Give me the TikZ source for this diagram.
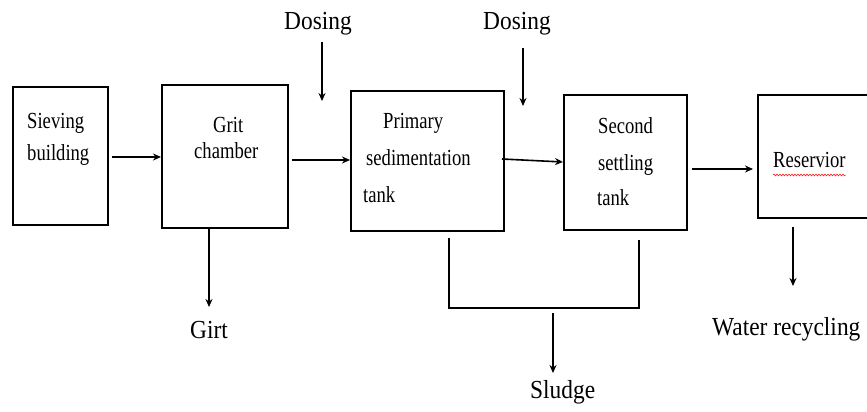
\documentclass[tikz,border=0pt]{standalone}
\usepackage{fontspec}
\setmainfont{Liberation Serif}
\usetikzlibrary{arrows.meta,calc,decorations.pathmorphing}
\newcommand\boxtxt[1]{\scalebox{0.81}[1]{#1}}
\newcommand\labtxt[1]{\scalebox{0.9}[1]{#1}}
\begin{document}
\begin{tikzpicture}[x=1pt,y=-1pt,
  box/.style={draw, line width=1.5pt, inner sep=0pt, anchor=north west},
  txt/.style={inner sep=0pt, anchor=base west, font=\rmfamily\fontsize{23}{23}\selectfont},
  lab/.style={inner sep=0pt, anchor=base west, font=\rmfamily\fontsize{26}{26}\selectfont},
  arr/.style={line width=1.6pt, -{Stealth[length=8pt,width=7pt]}},
  ln/.style={line width=1.5pt}]
\useasboundingbox (0,0) rectangle (867,412);
% boxes
\node[box, minimum width=95pt, minimum height=138pt] (sieve) at (12,86) {};
\node[box, minimum width=126pt, minimum height=143pt] (grit) at (161,84) {};
\node[box, minimum width=153pt, minimum height=140pt] (prim) at (350,90) {};
\node[box, minimum width=123pt, minimum height=135pt] (sec) at (563,94) {};
\node[box, minimum width=130pt, minimum height=123pt] (res) at (757,94) {};
% box texts
\node[txt] (sieveA) at (27,128) {\boxtxt{Sieving}};
\node[txt] (sieveB) at (27,160) {\boxtxt{building}};
\node[txt] (gritA) at (213,132) {\boxtxt{Grit}};
\node[txt] (gritB) at (194,158) {\boxtxt{chamber}};
\node[txt] (primA) at (383,128) {\boxtxt{Primary}};
\node[txt] (primB) at (366,165) {\boxtxt{sedimentation}};
\node[txt] (primC) at (363,202) {\boxtxt{tank}};
\node[txt] (secA) at (598,133) {\boxtxt{Second}};
\node[txt] (secB) at (598,170) {\boxtxt{settling}};
\node[txt] (secC) at (597,205) {\boxtxt{tank}};
\node[txt] (resA) at (773,167) {\boxtxt{Reservior}};
\draw[red, line width=0.5pt, decorate, decoration={snake, amplitude=0.9pt, segment length=3pt}]
  ($(resA.base west)+(0,8)$) -- ($(resA.base east)+(0,8)$);
% outside labels
\node[lab] (doseA) at (284,30) {\labtxt{Dosing}};
\node[lab] (doseB) at (483,30) {\labtxt{Dosing}};
\node[lab] (girt) at (190,338) {\labtxt{Girt}};
\node[lab] (sludge) at (530,398) {\labtxt{Sludge}};
\node[lab] (water) at (712,335) {\labtxt{Water recycling}};
% helper coordinates
\coordinate (h1) at (0,157);
\coordinate (h2) at (0,160);
\coordinate (h3a) at (502,159);
\coordinate (h3b) at (0,162);
\coordinate (h4) at (0,169);
\coordinate (dA1) at (322,42);
\coordinate (dA2) at (322,101);
\coordinate (dB1) at (523,48);
\coordinate (dB2) at (523,106);
\coordinate (g2) at (209,307);
\coordinate (sL1) at (449,238);
\coordinate (sL2) at (449,308);
\coordinate (sR1) at (639,240);
\coordinate (sR2) at (639,308);
\coordinate (sd1) at (553,313);
\coordinate (sd2) at (553,373);
\coordinate (r1) at (793,227);
\coordinate (r2) at (793,286);
% flow arrows
\draw[arr] ($(sieve.east |- h1)+(3,0)$) -- (grit.west |- h1);
\draw[arr] ($(grit.east |- h2)+(3,0)$) -- (prim.west |- h2);
\draw[arr] (h3a) -- (sec.west |- h3b);
\draw[arr] ($(sec.east |- h4)+(4,0)$) -- ($(res.west |- h4)+(-4,0)$);
% dosing
\draw[arr] (dA1) -- (dA2);
\draw[arr] (dB1) -- (dB2);
% grit
\draw[arr] (grit.south -| g2) -- (g2);
% sludge
\draw[ln] (sL1) -- (sL2) -- (sR2) -- (sR1);
\draw[arr] (sd1) -- (sd2);
% reservoir
\draw[arr] (r1) -- (r2);
\end{tikzpicture}
\end{document}
